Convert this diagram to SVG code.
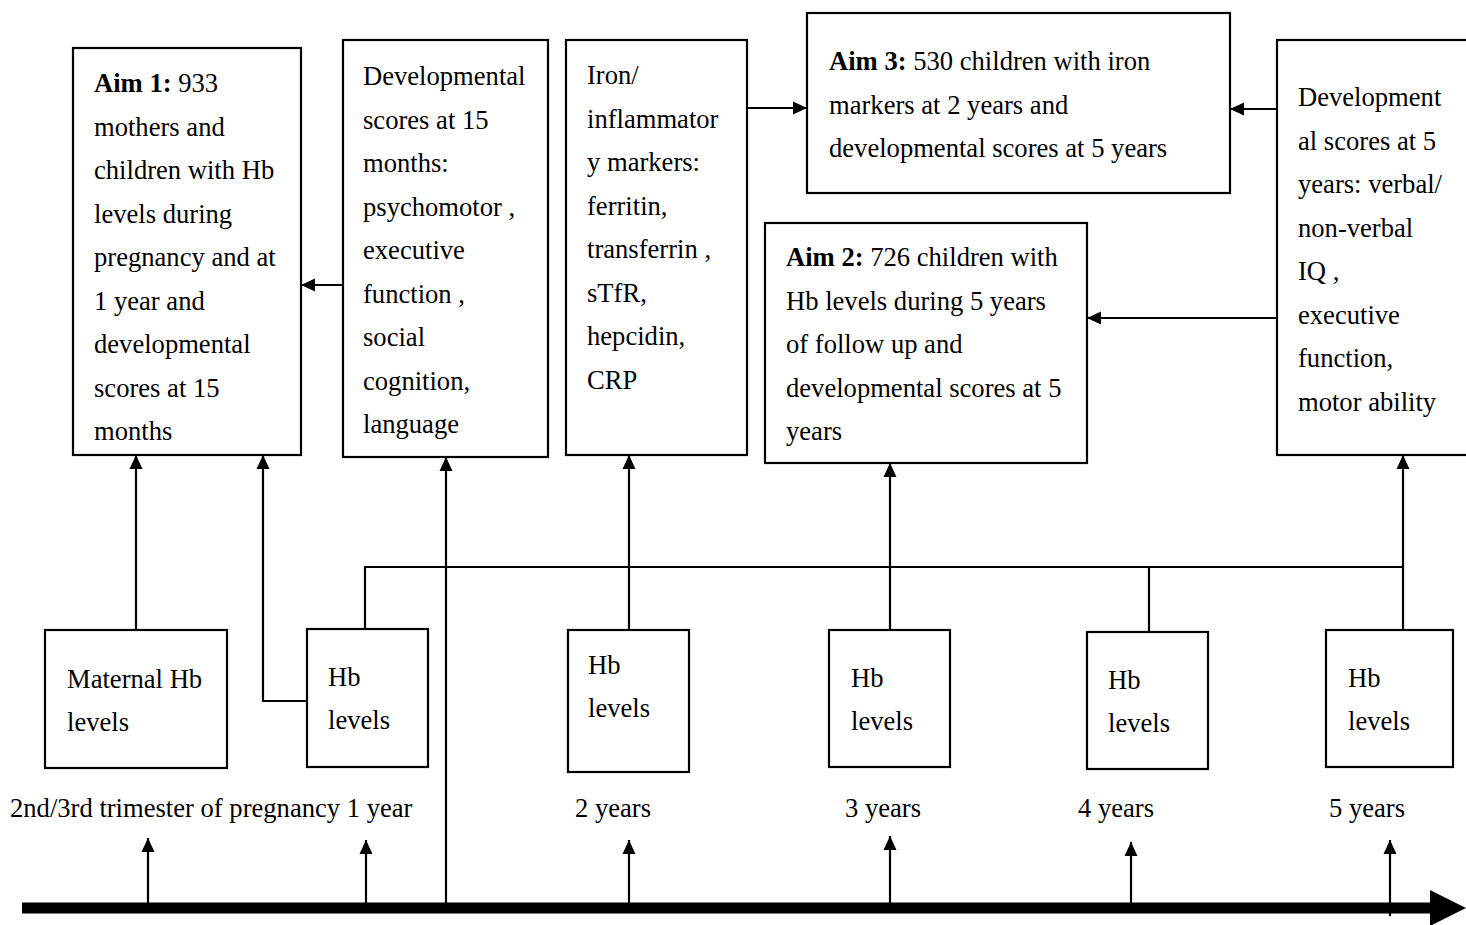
<svg xmlns="http://www.w3.org/2000/svg" width="1466" height="925" viewBox="0 0 1466 925">
<defs>
<style>
.box{fill:#fff;stroke:#000;stroke-width:2.2}
text{font-family:"Liberation Serif","Times New Roman",serif;font-size:26.6px;fill:#000}
.b{font-weight:bold}
.c{fill:none;stroke:#000;stroke-width:2.2}
</style>
<marker id="ah" viewBox="0 0 14 14" refX="14" refY="7" markerWidth="14" markerHeight="14" markerUnits="userSpaceOnUse" orient="auto">
<path d="M0,0.5 L14,7 L0,13.5 z" fill="#000"/>
</marker>
</defs>
<rect width="1466" height="925" fill="#fff"/>

<g id="aim1">
<rect class="box" x="73" y="48" width="228" height="407"/>
<text x="94" y="92"><tspan class="b">Aim 1:</tspan> 933</text>
<text x="94" y="135.5">mothers and</text>
<text x="94" y="179">children with Hb</text>
<text x="94" y="222.5">levels during</text>
<text x="94" y="266">pregnancy and at</text>
<text x="94" y="309.5">1 year and</text>
<text x="94" y="353">developmental</text>
<text x="94" y="396.5">scores at 15</text>
<text x="94" y="440">months</text>
</g>

<g id="dev15">
<rect class="box" x="343" y="40" width="205" height="417"/>
<text x="363" y="85">Developmental</text>
<text x="363" y="128.5">scores at 15</text>
<text x="363" y="172">months:</text>
<text x="363" y="215.5">psychomotor ,</text>
<text x="363" y="259">executive</text>
<text x="363" y="302.5">function ,</text>
<text x="363" y="346">social</text>
<text x="363" y="389.5">cognition,</text>
<text x="363" y="433">language</text>
</g>

<g id="iron">
<rect class="box" x="566" y="40" width="181" height="415"/>
<text x="587" y="84">Iron/</text>
<text x="587" y="127.5">inflammator</text>
<text x="587" y="171">y markers:</text>
<text x="587" y="214.5">ferritin,</text>
<text x="587" y="258">transferrin ,</text>
<text x="587" y="301.5">sTfR,</text>
<text x="587" y="345">hepcidin,</text>
<text x="587" y="388.5">CRP</text>
</g>

<g id="aim3">
<rect class="box" x="807" y="13" width="423" height="180"/>
<text x="829" y="70"><tspan class="b">Aim 3:</tspan> 530 children with iron</text>
<text x="829" y="113.5">markers at 2 years and</text>
<text x="829" y="157">developmental scores at 5 years</text>
</g>

<g id="aim2">
<rect class="box" x="765" y="223" width="322" height="240"/>
<text x="786" y="266"><tspan class="b">Aim 2:</tspan> 726 children with</text>
<text x="786" y="309.5">Hb levels during 5 years</text>
<text x="786" y="353">of follow up and</text>
<text x="786" y="396.5">developmental scores at 5</text>
<text x="786" y="440">years</text>
</g>

<g id="dev5">
<rect class="box" x="1277" y="40" width="200" height="415"/>
<text x="1298" y="106">Development</text>
<text x="1298" y="149.5">al scores at 5</text>
<text x="1298" y="193">years: verbal/</text>
<text x="1298" y="236.5">non-verbal</text>
<text x="1298" y="280">IQ ,</text>
<text x="1298" y="323.5">executive</text>
<text x="1298" y="367">function,</text>
<text x="1298" y="410.5">motor ability</text>
</g>

<g id="maternal">
<rect class="box" x="45" y="630" width="182" height="138"/>
<text x="67" y="688">Maternal Hb</text>
<text x="67" y="731">levels</text>
</g>
<g id="hb1">
<rect class="box" x="307" y="629" width="121" height="138"/>
<text x="328" y="686">Hb</text>
<text x="328" y="729">levels</text>
</g>
<g id="hb2">
<rect class="box" x="568" y="630" width="121" height="142"/>
<text x="588" y="674">Hb</text>
<text x="588" y="717">levels</text>
</g>
<g id="hb3">
<rect class="box" x="829" y="630" width="121" height="137"/>
<text x="851" y="687">Hb</text>
<text x="851" y="730">levels</text>
</g>
<g id="hb4">
<rect class="box" x="1087" y="632" width="121" height="137"/>
<text x="1108" y="689">Hb</text>
<text x="1108" y="732">levels</text>
</g>
<g id="hb5">
<rect class="box" x="1326" y="630" width="127" height="137"/>
<text x="1348" y="687">Hb</text>
<text x="1348" y="730">levels</text>
</g>

<g id="labels">
<text x="10" y="817">2nd/3rd trimester of pregnancy 1 year</text>
<text x="575" y="817">2 years</text>
<text x="845" y="817">3 years</text>
<text x="1078" y="817">4 years</text>
<text x="1329" y="817">5 years</text>
</g>

<g id="connectors">
<path class="c" d="M136,630 V455" marker-end="url(#ah)"/>
<path class="c" d="M307,701 H263 V455" marker-end="url(#ah)"/>
<path class="c" d="M365,629 V567 H1403"/>
<path class="c" d="M1403,630 V455" marker-end="url(#ah)"/>
<path class="c" d="M1149,632 V567"/>
<path class="c" d="M629,630 V455" marker-end="url(#ah)"/>
<path class="c" d="M890,630 V463" marker-end="url(#ah)"/>
<path class="c" d="M446,906 V457" marker-end="url(#ah)"/>
<path class="c" d="M343,285 H301" marker-end="url(#ah)"/>
<path class="c" d="M747,108 H807" marker-end="url(#ah)"/>
<path class="c" d="M1277,109 H1230" marker-end="url(#ah)"/>
<path class="c" d="M1277,318 H1087" marker-end="url(#ah)"/>
<path class="c" d="M148,904 V838" marker-end="url(#ah)"/>
<path class="c" d="M366,904 V840" marker-end="url(#ah)"/>
<path class="c" d="M629,904 V840" marker-end="url(#ah)"/>
<path class="c" d="M890,904 V836" marker-end="url(#ah)"/>
<path class="c" d="M1131,904 V842" marker-end="url(#ah)"/>
<path class="c" d="M1390,916 V840" marker-end="url(#ah)"/>
<path d="M22,908 H1434" stroke="#000" stroke-width="11" fill="none"/>
<path d="M1430,890 L1466,908 L1430,926 z" fill="#000"/>
</g>
</svg>
